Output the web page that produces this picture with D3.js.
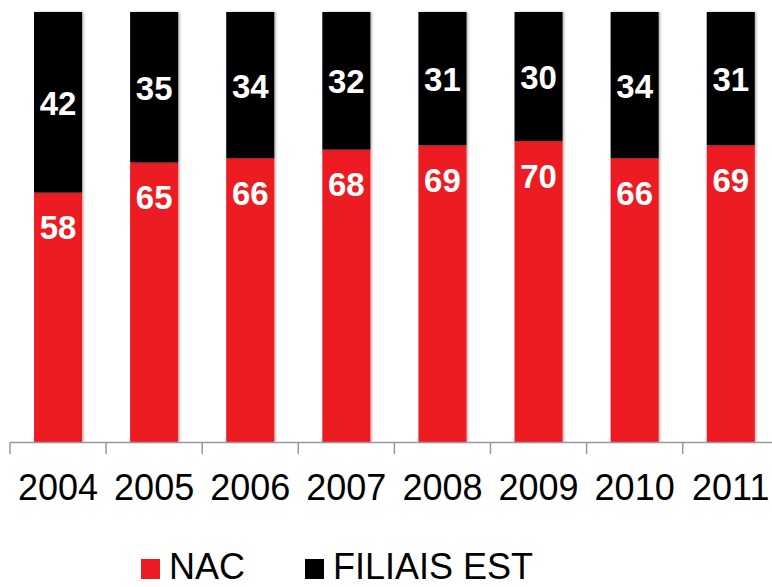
<!DOCTYPE html>
<html><head><meta charset="utf-8">
<script src="https://cdn.jsdelivr.net/npm/d3@7"></script>
<style>body{margin:0;background:#fff}svg{display:block}</style>
</head><body>
<svg id="c" width="772" height="587"></svg>
<script>
const years = ["2004","2005","2006","2007","2008","2009","2010","2011"];
const nac = [58,65,66,68,69,70,66,69];
const filiais = [42,35,34,32,31,30,34,31];
const seriesNames = ["NAC","FILIAIS EST"];
const colors = ["#ED1C24","#000000"];

const svg = d3.select("#c");
const step = 96.1;
const x0 = 10;
const x = d3.scaleBand().domain(years).range([x0, x0 + step*years.length]).paddingInner(0.5).paddingOuter(0.25);
const y = d3.scaleLinear().domain([0,100]).range([442,12]);

const defs = svg.append("defs");
const f = defs.append("filter").attr("id","sh").attr("x","-20%").attr("y","-5%").attr("width","140%").attr("height","110%");
f.append("feDropShadow").attr("dx",1.5).attr("dy",0).attr("stdDeviation",1.2).attr("flood-color","#000").attr("flood-opacity",0.3);

const data = years.map((yr,i)=>({year:yr, nac:nac[i], fil:filiais[i]}));
const g = svg.append("g");
g.selectAll(".nac").data(data).join("rect")
  .attr("x",d=>x(d.year)).attr("width",x.bandwidth())
  .attr("y",d=>y(d.nac)).attr("height",d=>y(0)-y(d.nac))
  .attr("fill",colors[0]).attr("filter","url(#sh)");
g.selectAll(".fil").data(data).join("rect")
  .attr("x",d=>x(d.year)).attr("width",x.bandwidth())
  .attr("y",d=>y(d.nac+d.fil)).attr("height",d=>y(d.nac)-y(d.nac+d.fil))
  .attr("fill",colors[1]).attr("filter","url(#sh)");

const lf = "Liberation Sans, Arial, sans-serif";
g.selectAll(".ln").data(data).join("text")
  .attr("x",d=>x(d.year)+x.bandwidth()/2).attr("y",d=>y(d.nac)+35)
  .attr("text-anchor","middle").attr("dominant-baseline","central")
  .attr("font-family",lf).attr("font-weight","bold").attr("font-size",33).attr("fill","#fff")
  .text(d=>d.nac);
g.selectAll(".lf").data(data).join("text")
  .attr("x",d=>x(d.year)+x.bandwidth()/2).attr("y",d=>(y(d.nac)+y(d.nac+d.fil))/2+1)
  .attr("text-anchor","middle").attr("dominant-baseline","central")
  .attr("font-family",lf).attr("font-weight","bold").attr("font-size",33).attr("fill","#fff")
  .text(d=>d.fil);

const ax = svg.append("g");
ax.append("line").attr("x1",x0).attr("x2",772).attr("y1",y(0)+0.5).attr("y2",y(0)+0.5).attr("stroke","#999").attr("stroke-width",1.5);
ax.selectAll(".tk").data(d3.range(years.length+1)).join("line")
  .attr("x1",i=>x0+i*step).attr("x2",i=>x0+i*step).attr("y1",y(0)).attr("y2",y(0)+12)
  .attr("stroke","#999").attr("stroke-width",1.5);
ax.selectAll(".yl").data(years).join("text")
  .attr("x",d=>x(d)+x.bandwidth()/2).attr("y",500)
  .attr("text-anchor","middle").attr("font-family",lf).attr("font-size",36).attr("fill","#000")
  .text(d=>d);

const leg = svg.append("g");
const legX = [141, 305];
seriesNames.forEach((n,i)=>{
  leg.append("rect").attr("x",legX[i]).attr("y",559).attr("width",19).attr("height",20).attr("fill",colors[i]);
  leg.append("text").attr("x",legX[i]+28).attr("y",579).attr("font-family",lf).attr("font-size",36).attr("fill","#000").text(n);
});
</script>
</body></html>
